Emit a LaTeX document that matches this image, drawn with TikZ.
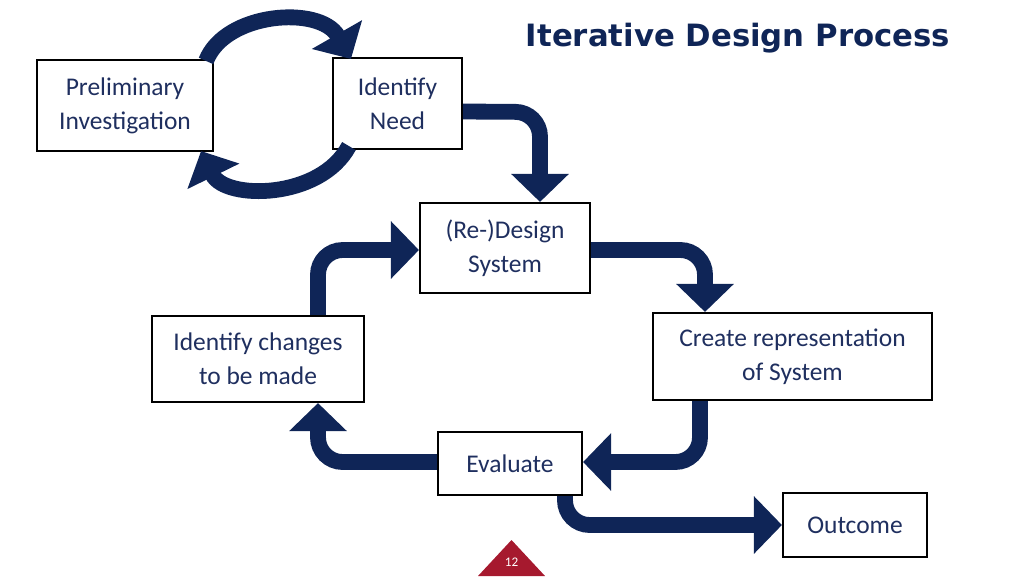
\documentclass[tikz,border=0pt]{standalone}
\usepackage{fontspec}
\setmainfont{Carlito}
\newfontfamily\titlefont{DejaVu Sans}
\usetikzlibrary{arrows.meta,calc}
\definecolor{navy}{HTML}{0F2557}
\definecolor{txt}{HTML}{1F2F5F}
\definecolor{pgred}{HTML}{A6192E}
\tikzset{
 box/.style={draw=black,line width=1.2pt,fill=white,align=center,text=txt,font=\fontsize{14.5}{19.5}\selectfont,inner sep=0pt},
 flow/.style={draw=navy,line width=9pt,rounded corners=14pt,-{Triangle[width=32pt,length=16pt]}},
}
\begin{document}
\begin{tikzpicture}[x=0.02cm,y=-0.02cm]
\useasboundingbox (0,0) rectangle (1024,576);
\node[box,minimum width=176*0.02cm,minimum height=91*0.02cm] (pre) at (125,105.5) {Preliminary\\Investigation};
\node[box,minimum width=129*0.02cm,minimum height=91*0.02cm] (need) at (397.5,103.5) {Identify\\Need};
\node[box,minimum width=170*0.02cm,minimum height=90*0.02cm] (des) at (505,248) {(Re-)Design\\System};
\node[box,minimum width=279*0.02cm,minimum height=87*0.02cm] (rep) at (792.5,356.5) {Create representation\\of System};
\node[box,minimum width=212*0.02cm,minimum height=86*0.02cm] (chg) at (258,359) {Identify changes\\to be made};
\node[box,minimum width=144*0.02cm,minimum height=63*0.02cm] (eva) at (510,463.5) {Evaluate};
\node[box,minimum width=144*0.02cm,minimum height=64*0.02cm] (out) at (855,525) {Outcome};
\node[text=navy,font=\titlefont\bfseries\fontsize{17.5}{22}\selectfont] (title) at (738,38) {Iterative Design Process};
\draw[flow] ($(need.east)+(0,8)$) -- (540,112) -- ($(des.north)+(35,0)$);
\draw[flow] ($(des.east)+(0,2)$) -- (705,250) -- ($(rep.north)+(-87.5,0)$);
\draw[flow] ($(rep.south)+(-92.5,0)$) -- (700,462) -- ($(eva.east)+(0,-1.5)$);
\draw[flow] ($(eva.west)+(0,-1.5)$) -- (318,462) -- ($(chg.south)+(60,0)$);
\draw[flow] ($(chg.north)+(60,0)$) -- (318,250) -- ($(des.west)+(0,2)$);
\draw[flow] ($(eva.south)+(55,0)$) -- (565,525) -- (out.west);
\draw[flow,rounded corners=0pt] ($(pre.north east)+(-8,2)$) .. controls (225,12) and (320,5) .. ($(need.north west)+(19,2)$);
\draw[flow,rounded corners=0pt] ($(need.south west)+(17,-4)$) .. controls (320,200) and (225,200) .. ($(pre.south east)+(-13,-1)$);
\fill[pgred] (478,576) -- (511.5,540) -- (545,576) -- cycle;
\node[text=white,font=\fontsize{7.5}{9}\selectfont] (pg) at (511.5,562) {12};
\end{tikzpicture}
\end{document}
